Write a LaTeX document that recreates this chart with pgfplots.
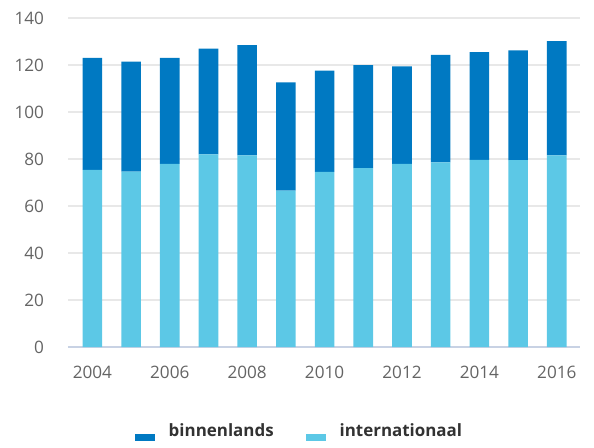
\documentclass[border=0pt]{standalone}
\usepackage{pgfplots}
\pgfplotsset{compat=1.18}
\usepackage{fontspec}
\setmainfont{Open Sans}

\definecolor{binnen}{RGB}{0,121,194}
\definecolor{inter}{RGB}{92,200,230}
\definecolor{gridgray}{RGB}{232,232,232}
\definecolor{axisgray}{RGB}{200,210,228}
\definecolor{ticktext}{RGB}{100,100,100}
\definecolor{legtext}{RGB}{50,50,50}

\pgfplotstableread{
year intl binn
2004 75.4 47.6
2005 74.6 46.8
2006 77.9 45.1
2007 82.0 45.0
2008 81.5 47.0
2009 66.5 46.1
2010 74.5 43.1
2011 76.1 43.9
2012 77.9 41.5
2013 78.6 45.7
2014 79.6 45.9
2015 79.5 46.7
2016 81.5 48.7
}\passengers

\begin{document}
\begin{tikzpicture}
% fixed canvas: 594x441 px at 0.5bp per px
\path[draw=none] (0,0) rectangle (297bp,220.5bp);
\begin{axis}[
    at={(34bp,47bp)}, anchor=south west,
    scale only axis,
    width=256bp, height=164.5bp,
    ybar stacked, bar width=9.8bp,
    xmin=2003.37, xmax=2016.6,
    ymin=0, ymax=140,
    xtick={2004,2006,...,2016},
    ytick={0,20,...,140},
    major tick length=0,
    separate axis lines,
    axis x line*=bottom, axis y line*=left,
    x axis line style={draw=axisgray, line width=0.6bp, -},
    y axis line style={draw=none},
    ymajorgrids,
    grid style={draw=gridgray, line width=0.6bp},
    /pgf/number format/1000 sep={},
    /pgf/number format/assume math mode=true,
    tick label style={font=\fontsize{8.6}{10}\selectfont, text=ticktext},
    yticklabel style={xshift=-8.5bp},
    xticklabel style={yshift=-6bp},
    legend columns=2, reverse legend,
    legend style={draw=none, fill=none, at={(0.454,-0.258)}, anchor=center,
        font=\fontsize{8.5}{10}\selectfont\bfseries, text=legtext,
        /tikz/every odd column/.append style={column sep=5bp},
        /tikz/every even column/.append style={column sep=14bp}},
    legend image code/.code={\fill[#1, draw=none] (0bp,-4.5bp) rectangle (10bp,-1bp);},
]
\addplot[fill=inter, draw=none] table[x=year, y=intl] {\passengers};
\addplot[fill=binnen, draw=none] table[x=year, y=binn] {\passengers};
\legend{internationaal, binnenlands}
\end{axis}
\end{tikzpicture}
\end{document}
